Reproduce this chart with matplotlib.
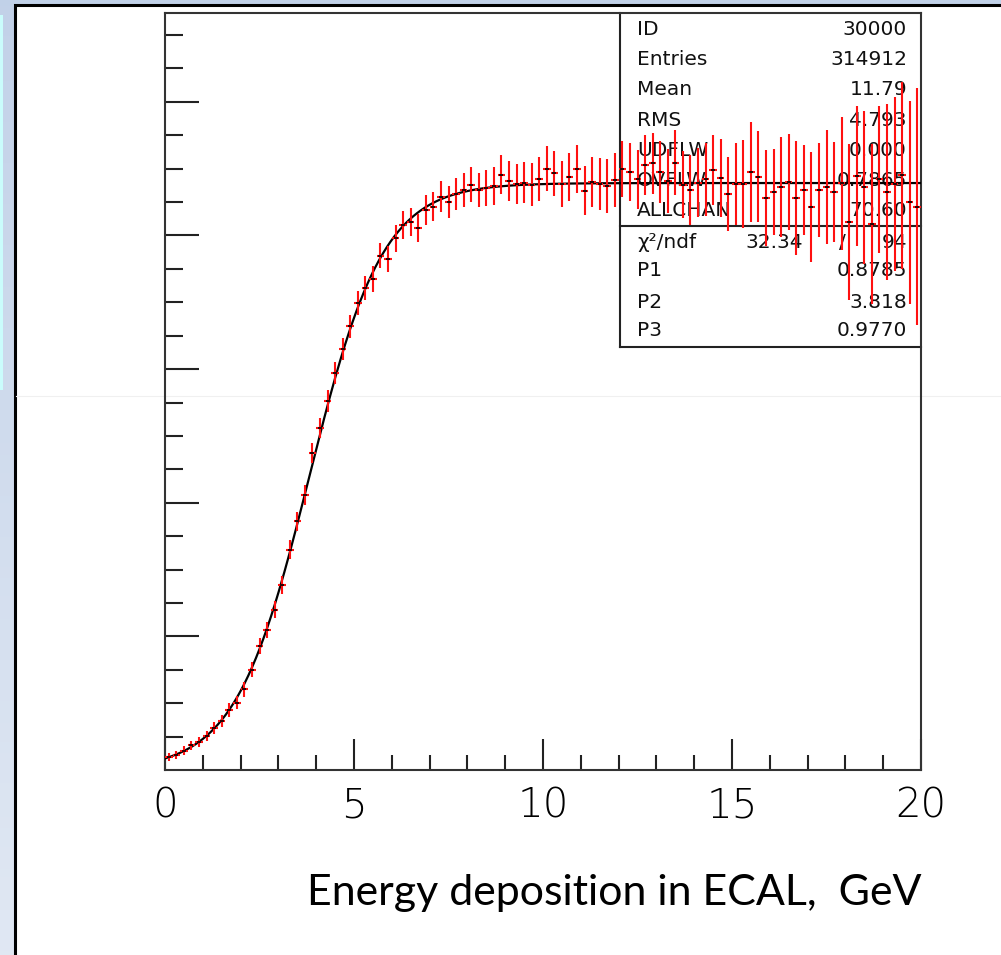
import numpy as np
import matplotlib
matplotlib.use('Agg')
import matplotlib.pyplot as plt
from matplotlib.patches import Rectangle

# histogram definition: 100 bins of 0.2 GeV between 0 and 20
x_min, x_max, n_bins = 0.0, 20.0, 100

# bin contents (bin centres 0.1 ... 19.9)
values = [
    0.019, 0.023, 0.029, 0.037, 0.042, 0.051, 0.063, 0.073, 0.090, 0.101,
    0.121, 0.150, 0.185, 0.209, 0.240, 0.277, 0.330, 0.372, 0.411, 0.474,
    0.512, 0.552, 0.594, 0.630, 0.664, 0.699, 0.722, 0.735, 0.770, 0.765,
    0.796, 0.815, 0.820, 0.811, 0.838, 0.843, 0.858, 0.850, 0.862, 0.868,
    0.876, 0.868, 0.871, 0.874, 0.891, 0.882, 0.877, 0.879, 0.876, 0.885,
    0.900, 0.893, 0.877, 0.888, 0.900, 0.867, 0.880, 0.877, 0.874, 0.883,
    0.900, 0.895, 0.884, 0.906, 0.908, 0.895, 0.882, 0.909, 0.876, 0.868,
    0.879, 0.884, 0.898, 0.886, 0.862, 0.877, 0.877, 0.895, 0.888, 0.856,
    0.865, 0.873, 0.880, 0.856, 0.868, 0.843, 0.868, 0.873, 0.865, 0.878,
    0.820, 0.889, 0.872, 0.817, 0.884, 0.865, 0.877, 0.890, 0.850, 0.843,
]
errors = [
    0.006, 0.006, 0.007, 0.007, 0.008, 0.008, 0.009, 0.009, 0.010, 0.010,
    0.011, 0.011, 0.012, 0.012, 0.013, 0.013, 0.014, 0.014, 0.015, 0.015,
    0.015, 0.016, 0.016, 0.017, 0.017, 0.018, 0.018, 0.019, 0.019, 0.020,
    0.020, 0.021, 0.021, 0.021, 0.022, 0.022, 0.023, 0.024, 0.024, 0.025,
    0.026, 0.026, 0.027, 0.028, 0.029, 0.030, 0.030, 0.031, 0.032, 0.033,
    0.034, 0.034, 0.035, 0.036, 0.036, 0.037, 0.038, 0.039, 0.040, 0.041,
    0.042, 0.043, 0.044, 0.045, 0.046, 0.047, 0.048, 0.049, 0.050, 0.052,
    0.052, 0.055, 0.053, 0.058, 0.056, 0.062, 0.066, 0.075, 0.068, 0.072,
    0.065, 0.075, 0.072, 0.085, 0.067, 0.082, 0.070, 0.085, 0.075, 0.100,
    0.117, 0.105, 0.115, 0.120, 0.110, 0.132, 0.130, 0.140, 0.152, 0.177,
]

# statistics box, as printed
stats_rows = [
    ('ID', '30000'),
    ('Entries', '314912'),
    ('Mean', '11.79'),
    ('RMS', '4.793'),
    ('UDFLW', '0.000'),
    ('OVFLW', '0.7865'),
    ('ALLCHAN', '70.60'),
]
chi2, ndf = '32.34', '94'
fit_rows = [('P1', '0.8785'), ('P2', '3.818'), ('P3', '0.9770')]
P1, P2, P3 = 0.8785, 3.818, 0.9770

x_ticks = [0, 5, 10, 15, 20]
x_label = 'Energy deposition in ECAL,  GeV'

W, H = 1001, 955
fig = plt.figure(figsize=(W / 100, H / 100), dpi=100)

# slide background
bg = fig.add_axes([0, 0, 1, 1], zorder=-10)
bg.set_axis_off()
grad = np.linspace(0, 1, 256)[:, None]
top_c = np.array([0.76, 0.82, 0.91])
bot_c = np.array([0.88, 0.91, 0.955])
img = top_c + (bot_c - top_c) * grad
bg.imshow(img[:, :, None].transpose(0, 2, 1).repeat(2, axis=1),
          aspect='auto', extent=[0, 1, 0, 1], origin='upper')
bg.set_xlim(0, 1)
bg.set_ylim(0, 1)
bg.add_patch(Rectangle((0, 1 - 390 / H), 3 / W, (390 - 15) / H,
                       facecolor='#cafcfc', edgecolor='none'))
bg.add_patch(Rectangle((15 / W, -0.02), 1.05, 1 - 5 / H + 0.02,
                       facecolor='white', edgecolor='black', linewidth=2.2))
bg.plot([16 / W, 1], [1 - 396 / H] * 2, color='#f0f0f0', lw=0.8)


def px2ax(px, py):
    return (px - 165) / 756, (770 - py) / 757


ax = fig.add_axes([165 / W, (H - 770) / H, 756 / W, 757 / H])
ax.patch.set_alpha(0)
ax.set_xlim(x_min, x_max)
ax.set_ylim(0, 1.133)

edges = np.linspace(x_min, x_max, n_bins + 1)
centres = 0.5 * (edges[1:] + edges[:-1])
half_w = 0.5 * (edges[1] - edges[0])

# fitted curve from the parameters in the box
xf = np.linspace(x_min, x_max, 400)
ax.plot(xf, P1 / (1 + np.exp(-(xf - P2) / P3)), color='black', lw=1.6,
        zorder=3)

ax.errorbar(centres, values, xerr=half_w, yerr=errors, fmt='none',
            ecolor='#ff1010', elinewidth=1.5, capsize=0, zorder=4)
ax.plot(centres, values, ls='none', marker='_', ms=3, mew=1.2,
        color='black', zorder=5)

for s in ax.spines.values():
    s.set_linewidth(1.5)
    s.set_color('#333333')

ax.set_xticks(x_ticks)
ax.set_xticklabels([str(t) for t in x_ticks])
ax.set_xticks(np.arange(1, 20, 1), minor=True)
ax.set_yticks(np.arange(0.2, 1.01, 0.2))
ax.set_yticks(np.arange(0.05, 1.11, 0.05), minor=True)
ax.set_yticklabels([])
ax.tick_params(which='both', direction='in', top=False, right=False,
               width=1.5, color='#222222')
ax.tick_params(axis='x', which='major', length=22, pad=12, labelsize=29)
ax.tick_params(axis='x', which='minor', length=11)
ax.tick_params(axis='y', which='major', length=24.5)
ax.tick_params(axis='y', which='minor', length=13)
for lab in ax.get_xticklabels():
    lab.set_fontweight('light')

# statistics box frame
bx0 = px2ax(620, 0)[0]
yb = px2ax(0, 347)[1]
ysep = px2ax(0, 226)[1]
frame_kw = dict(transform=ax.transAxes, color='#222222', lw=1.5,
                clip_on=False, zorder=2)
ax.plot([bx0, bx0], [yb, 1], **frame_kw)
ax.plot([bx0, 1], [yb, yb], **frame_kw)
ax.plot([bx0, 1], [ysep, ysep], **frame_kw)

txt_kw = dict(transform=ax.transAxes, fontsize=14.5, va='center',
              color='#111111', zorder=1)
row_y = [30, 60, 90, 121, 151, 180, 210]
for (name, val), py in zip(stats_rows, row_y):
    ax.text(*px2ax(637, py), name, ha='left', **txt_kw)
    ax.text(*px2ax(907, py), val, ha='right', **txt_kw)
ax.text(*px2ax(637, 242), 'χ²/ndf', ha='left', **txt_kw)
ax.text(*px2ax(803, 242), chi2, ha='right', **txt_kw)
ax.text(*px2ax(842, 242), '/', ha='center', **txt_kw)
ax.text(*px2ax(907, 242), ndf, ha='right', **txt_kw)
for (name, val), py in zip(fit_rows, [271, 302, 331]):
    ax.text(*px2ax(637, py), name, ha='left', **txt_kw)
    ax.text(*px2ax(907, py), val, ha='right', **txt_kw)

lbl = fig.text(614.5 / W, 1 - 893 / H, x_label, family='Lato', fontsize=30,
               ha='center', va='center', color='black')
fig.canvas.draw()
w = lbl.get_window_extent().width
lbl.set_fontsize(30 * 615 / w)

fig.savefig('out.png', dpi=100)
